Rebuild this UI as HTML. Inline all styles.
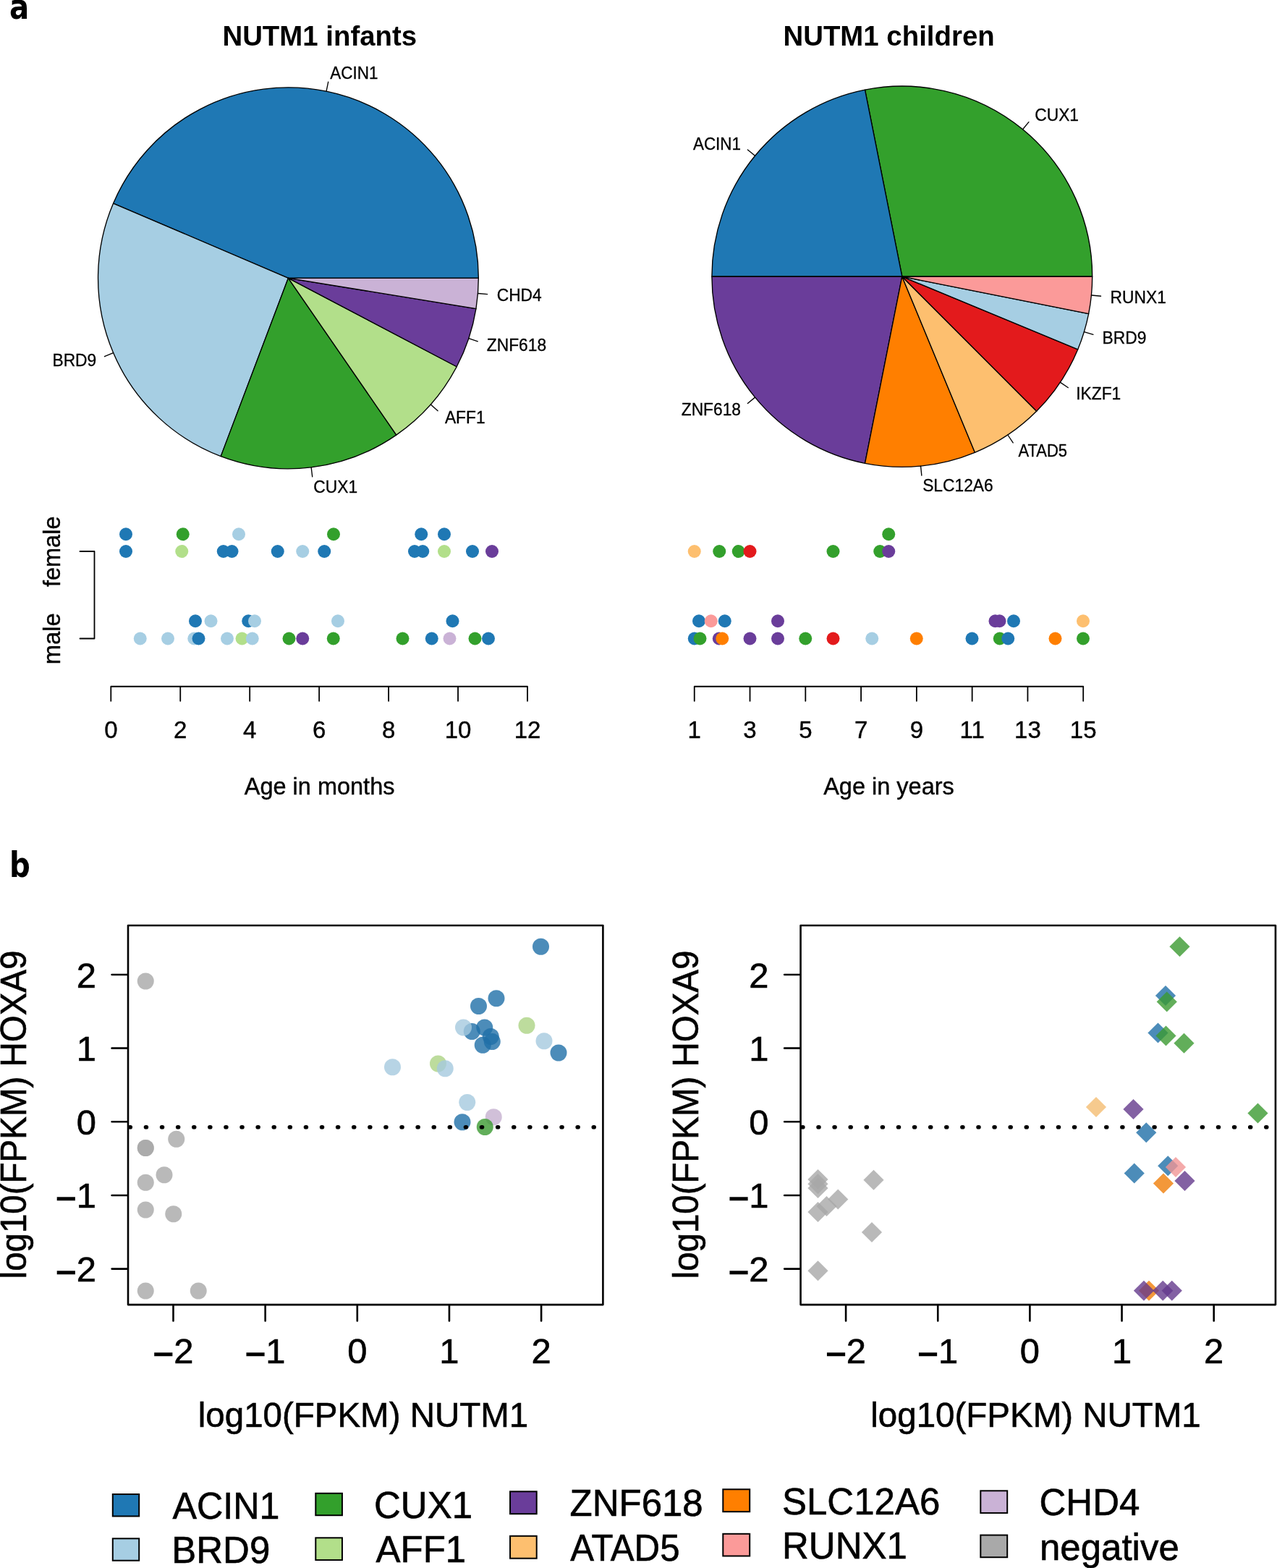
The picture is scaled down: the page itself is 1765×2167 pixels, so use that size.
<!DOCTYPE html>
<html lang="en">
<head>
<meta charset="utf-8">
<title>NUTM1 fusion partners</title>
<style>
html,body{margin:0;padding:0;background:#fff;}
body{width:1765px;height:2167px;overflow:hidden;font-family:"Liberation Sans",Arial,Helvetica,sans-serif;}
svg{display:block;}
text{white-space:pre;}
</style>
</head>
<body>
<svg width="1765" height="2167" viewBox="0 0 1765 2167">
<rect x="0" y="0" width="1765" height="2167" fill="#fff"/>
<g stroke="#000" stroke-width="1.35" stroke-linejoin="round" stroke-linecap="round">
<path d="M398.45 384.3L661.35 384.3A262.9 263.45 0 0 0 156.59 281.04Z" fill="#1F78B4"/>
<path d="M398.45 384.3L156.59 281.04A262.9 263.45 0 0 0 305.22 630.63Z" fill="#A6CEE3"/>
<path d="M398.45 384.3L305.22 630.63A262.9 263.45 0 0 0 547.79 601.12Z" fill="#33A02C"/>
<path d="M398.45 384.3L547.79 601.12A262.9 263.45 0 0 0 631.24 506.73Z" fill="#B2DF8A"/>
<path d="M398.45 384.3L631.24 506.73A262.9 263.45 0 0 0 657.95 426.56Z" fill="#6A3D9A"/>
<path d="M398.45 384.3L657.95 426.56A262.9 263.45 0 0 0 661.35 384.3Z" fill="#CAB2D6"/>
<line x1="451.04" y1="126.17" x2="453.67" y2="113.27"/>
<line x1="156.59" y1="487.56" x2="144.49" y2="492.73"/>
<line x1="430.14" y1="645.83" x2="431.72" y2="658.91"/>
<line x1="595.23" y1="559" x2="605.07" y2="567.73"/>
<line x1="647.82" y1="467.73" x2="660.29" y2="471.9"/>
<line x1="660.5" y1="405.5" x2="673.6" y2="406.56"/>
<path d="M1246.8 382.2L1509.7 382.2A262.9 263.15 0 0 0 1195.51 124.11Z" fill="#33A02C"/>
<path d="M1246.8 382.2L1195.51 124.11A262.9 263.15 0 0 0 983.9 382.2Z" fill="#1F78B4"/>
<path d="M1246.8 382.2L983.9 382.2A262.9 263.15 0 0 0 1195.51 640.29Z" fill="#6A3D9A"/>
<path d="M1246.8 382.2L1195.51 640.29A262.9 263.15 0 0 0 1347.41 625.32Z" fill="#FF7F00"/>
<path d="M1246.8 382.2L1347.41 625.32A262.9 263.15 0 0 0 1432.7 568.28Z" fill="#FDBF6F"/>
<path d="M1246.8 382.2L1432.7 568.28A262.9 263.15 0 0 0 1489.69 482.9Z" fill="#E31A1C"/>
<path d="M1246.8 382.2L1489.69 482.9A262.9 263.15 0 0 0 1504.65 433.54Z" fill="#A6CEE3"/>
<path d="M1246.8 382.2L1504.65 433.54A262.9 263.15 0 0 0 1509.7 382.2Z" fill="#FB9A99"/>
<line x1="1413.58" y1="178.78" x2="1421.92" y2="168.61"/>
<line x1="1043.58" y1="215.26" x2="1033.41" y2="206.91"/>
<line x1="1043.58" y1="549.14" x2="1033.41" y2="557.49"/>
<line x1="1272.57" y1="644.08" x2="1273.86" y2="657.18"/>
<line x1="1392.86" y1="601" x2="1400.16" y2="611.94"/>
<line x1="1465.39" y1="528.4" x2="1476.32" y2="535.71"/>
<line x1="1498.38" y1="458.59" x2="1510.96" y2="462.41"/>
<line x1="1508.43" y1="407.99" x2="1521.52" y2="409.28"/>
</g>
<g font-family="Liberation Sans, Arial, Helvetica, sans-serif" font-size="22.8" fill="#000" stroke="#000" stroke-width="0.3">
<text transform="translate(456.3 108.61) scale(0.985 1.03)">ACIN1</text>
<text transform="translate(133.2 506.44) scale(1 1.03)" text-anchor="end">BRD9</text>
<text transform="translate(433.31 680.53) scale(1 1.03)">CUX1</text>
<text transform="translate(614.91 585.02) scale(1 1.03)">AFF1</text>
<text transform="translate(672.76 484.62) scale(1 1.03)">ZNF618</text>
<text transform="translate(686.7 416.17) scale(1 1.03)">CHD4</text>
<text transform="translate(1430.26 166.69) scale(1 1.03)">CUX1</text>
<text transform="translate(1024.05 206.82) scale(0.985 1.03)" text-anchor="end">ACIN1</text>
<text transform="translate(1024.05 574.38) scale(1 1.03)" text-anchor="end">ZNF618</text>
<text transform="translate(1275.15 678.82) scale(1 1.03)">SLC12A6</text>
<text transform="translate(1407.47 631.43) scale(0.965 1.03)">ATAD5</text>
<text transform="translate(1487.25 551.57) scale(1 1.03)">IKZF1</text>
<text transform="translate(1523.54 474.78) scale(1 1.03)">BRD9</text>
<text transform="translate(1534.6 419.12) scale(1 1.03)">RUNX1</text>
</g>
<g font-family="Liberation Sans, Arial, Helvetica, sans-serif" font-size="38.4" font-weight="bold" text-anchor="middle" fill="#000">
<text x="441.8" y="63.3">NUTM1 infants</text>
<text x="1228.6" y="63.3">NUTM1 children</text>
</g>
<g font-family="DejaVu Sans, Liberation Sans, sans-serif" font-size="48" font-weight="bold" fill="#000">
<text transform="translate(13.1 26.2) scale(0.84 1)">a</text>
<text transform="translate(13.1 1212) scale(0.84 1)">b</text>
</g>
<g>
<circle cx="174" cy="738.25" r="9" fill="#1F78B4"/>
<circle cx="252.75" cy="738.25" r="9" fill="#33A02C"/>
<circle cx="330" cy="738.25" r="9" fill="#A6CEE3"/>
<circle cx="461" cy="738.25" r="9" fill="#33A02C"/>
<circle cx="582.25" cy="738.25" r="9" fill="#1F78B4"/>
<circle cx="614" cy="738.25" r="9" fill="#1F78B4"/>
<circle cx="174" cy="762" r="9" fill="#1F78B4"/>
<circle cx="251.25" cy="762" r="9" fill="#B2DF8A"/>
<circle cx="308.75" cy="762" r="9" fill="#1F78B4"/>
<circle cx="320.5" cy="762" r="9" fill="#1F78B4"/>
<circle cx="383.75" cy="762" r="9" fill="#1F78B4"/>
<circle cx="418.25" cy="762" r="9" fill="#A6CEE3"/>
<circle cx="448.25" cy="762" r="9" fill="#1F78B4"/>
<circle cx="573" cy="762" r="9" fill="#1F78B4"/>
<circle cx="584.25" cy="762" r="9" fill="#1F78B4"/>
<circle cx="614" cy="762" r="9" fill="#B2DF8A"/>
<circle cx="653" cy="762" r="9" fill="#1F78B4"/>
<circle cx="680" cy="762" r="9" fill="#6A3D9A"/>
<circle cx="270" cy="858.25" r="9" fill="#1F78B4"/>
<circle cx="291.5" cy="858.25" r="9" fill="#A6CEE3"/>
<circle cx="343.25" cy="858.25" r="9" fill="#1F78B4"/>
<circle cx="352" cy="858.25" r="9" fill="#A6CEE3"/>
<circle cx="467" cy="858.25" r="9" fill="#A6CEE3"/>
<circle cx="625.5" cy="858.25" r="9" fill="#1F78B4"/>
<circle cx="193.75" cy="882.5" r="9" fill="#A6CEE3"/>
<circle cx="232" cy="882.5" r="9" fill="#A6CEE3"/>
<circle cx="268.3" cy="882.5" r="9" fill="#A6CEE3"/>
<circle cx="274.5" cy="882.5" r="9" fill="#1F78B4"/>
<circle cx="314" cy="882.5" r="9" fill="#A6CEE3"/>
<circle cx="334.5" cy="882.5" r="9" fill="#B2DF8A"/>
<circle cx="348.75" cy="882.5" r="9" fill="#A6CEE3"/>
<circle cx="399.5" cy="882.5" r="9" fill="#33A02C"/>
<circle cx="418.25" cy="882.5" r="9" fill="#6A3D9A"/>
<circle cx="460.75" cy="882.5" r="9" fill="#33A02C"/>
<circle cx="556.5" cy="882.5" r="9" fill="#33A02C"/>
<circle cx="596.75" cy="882.5" r="9" fill="#1F78B4"/>
<circle cx="621.5" cy="882.5" r="9" fill="#CAB2D6"/>
<circle cx="656.5" cy="882.5" r="9" fill="#33A02C"/>
<circle cx="675" cy="882.5" r="9" fill="#1F78B4"/>
<circle cx="1228.25" cy="738.25" r="9" fill="#33A02C"/>
<circle cx="959.75" cy="762" r="9" fill="#FDBF6F"/>
<circle cx="994.25" cy="762" r="9" fill="#33A02C"/>
<circle cx="1020.75" cy="762" r="9" fill="#33A02C"/>
<circle cx="1036.5" cy="762" r="9" fill="#E31A1C"/>
<circle cx="1151.5" cy="762" r="9" fill="#33A02C"/>
<circle cx="1216.25" cy="762" r="9" fill="#33A02C"/>
<circle cx="1228.25" cy="762" r="9" fill="#6A3D9A"/>
<circle cx="966" cy="858.25" r="9" fill="#1F78B4"/>
<circle cx="982.75" cy="858.25" r="9" fill="#FB9A99"/>
<circle cx="1001.75" cy="858.25" r="9" fill="#1F78B4"/>
<circle cx="1075" cy="858.25" r="9" fill="#6A3D9A"/>
<circle cx="1375.5" cy="858.25" r="9" fill="#6A3D9A"/>
<circle cx="1381.5" cy="858.25" r="9" fill="#6A3D9A"/>
<circle cx="1401" cy="858.25" r="9" fill="#1F78B4"/>
<circle cx="1497" cy="858.25" r="9" fill="#FDBF6F"/>
<circle cx="959.75" cy="882.5" r="9" fill="#1F78B4"/>
<circle cx="967.5" cy="882.5" r="9" fill="#33A02C"/>
<circle cx="993.8" cy="882.5" r="9" fill="#6A3D9A"/>
<circle cx="998.25" cy="882.5" r="9" fill="#FF7F00"/>
<circle cx="1036.5" cy="882.5" r="9" fill="#6A3D9A"/>
<circle cx="1075" cy="882.5" r="9" fill="#6A3D9A"/>
<circle cx="1113.25" cy="882.5" r="9" fill="#33A02C"/>
<circle cx="1151.5" cy="882.5" r="9" fill="#E31A1C"/>
<circle cx="1205.25" cy="882.5" r="9" fill="#A6CEE3"/>
<circle cx="1266.75" cy="882.5" r="9" fill="#FF7F00"/>
<circle cx="1343.5" cy="882.5" r="9" fill="#1F78B4"/>
<circle cx="1381.75" cy="882.5" r="9" fill="#33A02C"/>
<circle cx="1393.25" cy="882.5" r="9" fill="#1F78B4"/>
<circle cx="1458.5" cy="882.5" r="9" fill="#FF7F00"/>
<circle cx="1497" cy="882.5" r="9" fill="#33A02C"/>
</g>
<g stroke="#000" stroke-width="1.8" fill="none" stroke-linecap="round" stroke-linejoin="round">
<path d="M153.3 948.75H729M153.3 948.75v20M249.25 948.75v20M345.2 948.75v20M441.15 948.75v20M537.1 948.75v20M633.05 948.75v20M729 948.75v20"/>
<path d="M959.75 948.75H1497.21M959.75 948.75v20M1036.53 948.75v20M1113.31 948.75v20M1190.09 948.75v20M1266.87 948.75v20M1343.65 948.75v20M1420.43 948.75v20M1497.21 948.75v20"/>
<path d="M110.5 762H130.5V882.5H110.5"/>
</g>
<g font-family="Liberation Sans, Arial, Helvetica, sans-serif" font-size="33" text-anchor="middle" fill="#000" stroke="#000" stroke-width="0.4">
<text transform="translate(153.3 1019.8) scale(1 1)" text-anchor="middle">0</text>
<text transform="translate(249.25 1019.8) scale(1 1)" text-anchor="middle">2</text>
<text transform="translate(345.2 1019.8) scale(1 1)" text-anchor="middle">4</text>
<text transform="translate(441.15 1019.8) scale(1 1)" text-anchor="middle">6</text>
<text transform="translate(537.1 1019.8) scale(1 1)" text-anchor="middle">8</text>
<text transform="translate(633.05 1019.8) scale(1 1)" text-anchor="middle">10</text>
<text transform="translate(729 1019.8) scale(1 1)" text-anchor="middle">12</text>
<text transform="translate(959.75 1019.8) scale(1 1)" text-anchor="middle">1</text>
<text transform="translate(1036.53 1019.8) scale(1 1)" text-anchor="middle">3</text>
<text transform="translate(1113.31 1019.8) scale(1 1)" text-anchor="middle">5</text>
<text transform="translate(1190.09 1019.8) scale(1 1)" text-anchor="middle">7</text>
<text transform="translate(1266.87 1019.8) scale(1 1)" text-anchor="middle">9</text>
<text transform="translate(1343.65 1019.8) scale(1 1)" text-anchor="middle">11</text>
<text transform="translate(1420.43 1019.8) scale(1 1)" text-anchor="middle">13</text>
<text transform="translate(1497.21 1019.8) scale(1 1)" text-anchor="middle">15</text>
<text transform="translate(441.6 1098.3) scale(0.985 1.03)" text-anchor="middle">Age in months</text>
<text transform="translate(1228.5 1098.3) scale(0.985 1.03)" text-anchor="middle">Age in years</text>
<text transform="translate(83 762.3) rotate(-90) scale(0.985 1.03)" text-anchor="middle">female</text>
<text transform="translate(83 882.7) rotate(-90) scale(0.995 1.03)" text-anchor="middle">male</text>
</g>
<g fill-opacity="0.8">
<circle cx="201.25" cy="1356" r="11.5" fill="#A8A8A8"/>
<circle cx="201.25" cy="1586.5" r="11.5" fill="#A8A8A8"/>
<circle cx="201.25" cy="1586.5" r="11.5" fill="#A8A8A8"/>
<circle cx="243.75" cy="1574.25" r="11.5" fill="#A8A8A8"/>
<circle cx="227" cy="1623.75" r="11.5" fill="#A8A8A8"/>
<circle cx="201.25" cy="1634.25" r="11.5" fill="#A8A8A8"/>
<circle cx="201.25" cy="1672" r="11.5" fill="#A8A8A8"/>
<circle cx="239.75" cy="1677.75" r="11.5" fill="#A8A8A8"/>
<circle cx="201.25" cy="1784" r="11.5" fill="#A8A8A8"/>
<circle cx="274.25" cy="1784" r="11.5" fill="#A8A8A8"/>
<circle cx="747.5" cy="1308.25" r="11.5" fill="#1F6FA7"/>
<circle cx="686" cy="1379.75" r="11.5" fill="#1F6FA7"/>
<circle cx="661.5" cy="1390.5" r="11.5" fill="#1F6FA7"/>
<circle cx="652.25" cy="1425.5" r="11.5" fill="#1F6FA7"/>
<circle cx="640.5" cy="1420" r="11.5" fill="#A5C9DE"/>
<circle cx="669.75" cy="1420" r="11.5" fill="#1F6FA7"/>
<circle cx="678.25" cy="1432.5" r="11.5" fill="#1F6FA7"/>
<circle cx="680.25" cy="1439.5" r="11.5" fill="#1F6FA7"/>
<circle cx="667.25" cy="1444.25" r="11.5" fill="#1F6FA7"/>
<circle cx="728" cy="1417.25" r="11.5" fill="#ADD385"/>
<circle cx="752" cy="1438.75" r="11.5" fill="#A5C9DE"/>
<circle cx="772" cy="1455" r="11.5" fill="#1F6FA7"/>
<circle cx="542.5" cy="1474.75" r="11.5" fill="#A5C9DE"/>
<circle cx="605.5" cy="1470" r="11.5" fill="#ADD385"/>
<circle cx="615.25" cy="1476.75" r="11.5" fill="#A5C9DE"/>
<circle cx="645.75" cy="1523.5" r="11.5" fill="#A5C9DE"/>
<circle cx="682.25" cy="1543.75" r="11.5" fill="#C6B0D0"/>
<circle cx="639" cy="1550.75" r="11.5" fill="#1F6FA7"/>
<circle cx="670.25" cy="1557.5" r="11.5" fill="#3B9A31"/>
</g>
<path d="M179.4 1557.7H832.4" stroke="#000" stroke-width="5.6" stroke-linecap="round" stroke-dasharray="0.9 21.2" fill="none"/>
<g stroke="#000" stroke-width="2.6" fill="none" stroke-linecap="round" stroke-linejoin="round">
<path d="M177 1279h656.4v524.1h-656.4zM239.5 1803.1v22.4M177 1753.6h-22.4M366.65 1803.1v22.4M177 1651.95h-22.4M493.8 1803.1v22.4M177 1550.3h-22.4M620.95 1803.1v22.4M177 1448.65h-22.4M748.1 1803.1v22.4M177 1347h-22.4"/>
</g>
<g font-family="Liberation Sans, Arial, Helvetica, sans-serif" font-size="47.5" fill="#000" stroke="#000" stroke-width="0.6">
<text transform="translate(239.5 1883.7) scale(1.03 1.02)" text-anchor="middle"><tspan dy="3.8" stroke-width="1.4">−</tspan><tspan dy="-3.8">2</tspan></text>
<text transform="translate(132.9 1771.1) scale(1.03 1.02)" text-anchor="end"><tspan dy="3.8" stroke-width="1.4">−</tspan><tspan dy="-3.8">2</tspan></text>
<text transform="translate(366.65 1883.7) scale(1.03 1.02)" text-anchor="middle"><tspan dy="3.8" stroke-width="1.4">−</tspan><tspan dy="-3.8">1</tspan></text>
<text transform="translate(132.9 1669.45) scale(1.03 1.02)" text-anchor="end"><tspan dy="3.8" stroke-width="1.4">−</tspan><tspan dy="-3.8">1</tspan></text>
<text transform="translate(493.8 1883.7) scale(1.03 1.02)" text-anchor="middle">0</text>
<text transform="translate(132.9 1567.8) scale(1.03 1.02)" text-anchor="end">0</text>
<text transform="translate(620.95 1883.7) scale(1.03 1.02)" text-anchor="middle">1</text>
<text transform="translate(132.9 1466.15) scale(1.03 1.02)" text-anchor="end">1</text>
<text transform="translate(748.1 1883.7) scale(1.03 1.02)" text-anchor="middle">2</text>
<text transform="translate(132.9 1364.5) scale(1.03 1.02)" text-anchor="end">2</text>
<text transform="translate(502 1972) scale(1 1.03)" text-anchor="middle">log10(FPKM) NUTM1</text>
<text transform="translate(35.8 1540.5) rotate(-90) scale(1 1.04)" text-anchor="middle">log10(FPKM) HOXA9</text>
</g>
<path d="M1108.95 1557.7H1761.95" stroke="#000" stroke-width="5.6" stroke-linecap="round" stroke-dasharray="0.9 21.2" fill="none"/>
<g fill-opacity="0.8">
<path d="M1130.5 1615.9l14.1 14.1l-14.1 14.1l-14.1 -14.1z" fill="#A8A8A8"/>
<path d="M1130.5 1622.15l14.1 14.1l-14.1 14.1l-14.1 -14.1z" fill="#A8A8A8"/>
<path d="M1130.5 1627.9l14.1 14.1l-14.1 14.1l-14.1 -14.1z" fill="#A8A8A8"/>
<path d="M1207.5 1616.65l14.1 14.1l-14.1 14.1l-14.1 -14.1z" fill="#A8A8A8"/>
<path d="M1158.25 1643.4l14.1 14.1l-14.1 14.1l-14.1 -14.1z" fill="#A8A8A8"/>
<path d="M1142.5 1652.9l14.1 14.1l-14.1 14.1l-14.1 -14.1z" fill="#A8A8A8"/>
<path d="M1130.5 1660.9l14.1 14.1l-14.1 14.1l-14.1 -14.1z" fill="#A8A8A8"/>
<path d="M1205 1688.9l14.1 14.1l-14.1 14.1l-14.1 -14.1z" fill="#A8A8A8"/>
<path d="M1130.5 1742.15l14.1 14.1l-14.1 14.1l-14.1 -14.1z" fill="#A8A8A8"/>
<path d="M1630.5 1294.15l14.1 14.1l-14.1 14.1l-14.1 -14.1z" fill="#3B9A31"/>
<path d="M1611 1361.9l14.1 14.1l-14.1 14.1l-14.1 -14.1z" fill="#1F6FA7"/>
<path d="M1612.75 1370.4l14.1 14.1l-14.1 14.1l-14.1 -14.1z" fill="#3B9A31"/>
<path d="M1600.5 1413.4l14.1 14.1l-14.1 14.1l-14.1 -14.1z" fill="#1F6FA7"/>
<path d="M1611.5 1417.4l14.1 14.1l-14.1 14.1l-14.1 -14.1z" fill="#3B9A31"/>
<path d="M1636.5 1427.65l14.1 14.1l-14.1 14.1l-14.1 -14.1z" fill="#3B9A31"/>
<path d="M1515 1515.9l14.1 14.1l-14.1 14.1l-14.1 -14.1z" fill="#F4BD72"/>
<path d="M1566.5 1518.9l14.1 14.1l-14.1 14.1l-14.1 -14.1z" fill="#643A8C"/>
<path d="M1738.5 1524.4l14.1 14.1l-14.1 14.1l-14.1 -14.1z" fill="#3B9A31"/>
<path d="M1584.25 1551.15l14.1 14.1l-14.1 14.1l-14.1 -14.1z" fill="#1F6FA7"/>
<path d="M1567.75 1607.4l14.1 14.1l-14.1 14.1l-14.1 -14.1z" fill="#1F6FA7"/>
<path d="M1614.25 1597.15l14.1 14.1l-14.1 14.1l-14.1 -14.1z" fill="#1F6FA7"/>
<path d="M1625 1598.9l14.1 14.1l-14.1 14.1l-14.1 -14.1z" fill="#F19595"/>
<path d="M1608 1621.4l14.1 14.1l-14.1 14.1l-14.1 -14.1z" fill="#F07E09"/>
<path d="M1637.5 1617.9l14.1 14.1l-14.1 14.1l-14.1 -14.1z" fill="#643A8C"/>
<path d="M1588 1769.65l14.1 14.1l-14.1 14.1l-14.1 -14.1z" fill="#F07E09"/>
<path d="M1581 1769.65l14.1 14.1l-14.1 14.1l-14.1 -14.1z" fill="#643A8C"/>
<path d="M1607.25 1769.65l14.1 14.1l-14.1 14.1l-14.1 -14.1z" fill="#643A8C"/>
<path d="M1619.75 1769.65l14.1 14.1l-14.1 14.1l-14.1 -14.1z" fill="#643A8C"/>
</g>
<g stroke="#000" stroke-width="2.6" fill="none" stroke-linecap="round" stroke-linejoin="round">
<path d="M1106.55 1279h656.4v524.1h-656.4zM1169.1 1803.1v22.4M1106.55 1753.6h-22.4M1296.25 1803.1v22.4M1106.55 1651.95h-22.4M1423.4 1803.1v22.4M1106.55 1550.3h-22.4M1550.55 1803.1v22.4M1106.55 1448.65h-22.4M1677.7 1803.1v22.4M1106.55 1347h-22.4"/>
</g>
<g font-family="Liberation Sans, Arial, Helvetica, sans-serif" font-size="47.5" fill="#000" stroke="#000" stroke-width="0.6">
<text transform="translate(1169.1 1883.7) scale(1.03 1.02)" text-anchor="middle"><tspan dy="3.8" stroke-width="1.4">−</tspan><tspan dy="-3.8">2</tspan></text>
<text transform="translate(1062.45 1771.1) scale(1.03 1.02)" text-anchor="end"><tspan dy="3.8" stroke-width="1.4">−</tspan><tspan dy="-3.8">2</tspan></text>
<text transform="translate(1296.25 1883.7) scale(1.03 1.02)" text-anchor="middle"><tspan dy="3.8" stroke-width="1.4">−</tspan><tspan dy="-3.8">1</tspan></text>
<text transform="translate(1062.45 1669.45) scale(1.03 1.02)" text-anchor="end"><tspan dy="3.8" stroke-width="1.4">−</tspan><tspan dy="-3.8">1</tspan></text>
<text transform="translate(1423.4 1883.7) scale(1.03 1.02)" text-anchor="middle">0</text>
<text transform="translate(1062.45 1567.8) scale(1.03 1.02)" text-anchor="end">0</text>
<text transform="translate(1550.55 1883.7) scale(1.03 1.02)" text-anchor="middle">1</text>
<text transform="translate(1062.45 1466.15) scale(1.03 1.02)" text-anchor="end">1</text>
<text transform="translate(1677.7 1883.7) scale(1.03 1.02)" text-anchor="middle">2</text>
<text transform="translate(1062.45 1364.5) scale(1.03 1.02)" text-anchor="end">2</text>
<text transform="translate(1431.55 1972) scale(1 1.03)" text-anchor="middle">log10(FPKM) NUTM1</text>
<text transform="translate(965.35 1540.5) rotate(-90) scale(1 1.04)" text-anchor="middle">log10(FPKM) HOXA9</text>
</g>
<g stroke="#000" stroke-width="2">
<rect x="155.8" y="2065.05" width="36.4" height="30.4" fill="#1F78B4"/>
<rect x="155.8" y="2126.3" width="36.4" height="30.4" fill="#A6CEE3"/>
<rect x="436.3" y="2063.8" width="36.65" height="30.4" fill="#33A02C"/>
<rect x="436.3" y="2125.3" width="36.65" height="30.65" fill="#B2DF8A"/>
<rect x="705.05" y="2061.3" width="36.65" height="30.9" fill="#6A3D9A"/>
<rect x="705.05" y="2122.8" width="36.65" height="30.9" fill="#FDBF6F"/>
<rect x="999.3" y="2058.3" width="36.9" height="30.9" fill="#FF7F00"/>
<rect x="999.3" y="2119.8" width="36.9" height="30.65" fill="#FB9A99"/>
<rect x="1355.3" y="2060.3" width="36.9" height="30.65" fill="#CAB2D6"/>
<rect x="1355.3" y="2121.55" width="36.9" height="30.65" fill="#A9A9A9"/>
</g>
<g font-family="Liberation Sans, Arial, Helvetica, sans-serif" font-size="51" fill="#000" stroke="#000" stroke-width="0.6">
<text transform="translate(238.5 2098.75) scale(0.985 1.03)">ACIN1</text>
<text transform="translate(237.25 2160) scale(1 1.03)">BRD9</text>
<text transform="translate(517 2097.5) scale(1 1.03)">CUX1</text>
<text transform="translate(519.5 2158.75) scale(1 1.03)">AFF1</text>
<text transform="translate(787.5 2095) scale(1 1.03)">ZNF618</text>
<text transform="translate(788.25 2156.75) scale(0.965 1.03)">ATAD5</text>
<text transform="translate(1081 2092.5) scale(1 1.03)">SLC12A6</text>
<text transform="translate(1081 2153.75) scale(1 1.03)">RUNX1</text>
<text transform="translate(1436.5 2094.25) scale(1 1.03)">CHD4</text>
<text transform="translate(1437 2155.5) scale(1 1.03)">negative</text>
</g>
</svg>
</body>
</html>
